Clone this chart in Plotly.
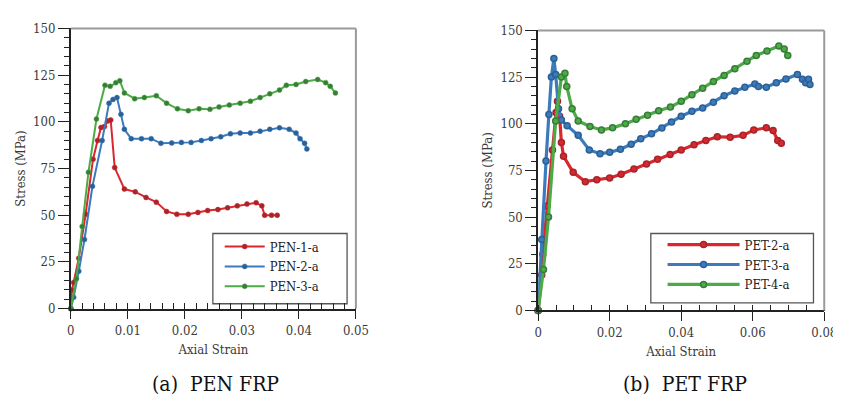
import plotly.graph_objects as go

# ---------------- data: (a) PEN FRP ----------------
pen1_strain = [0, 0.0002, 0.0005, 0.0014, 0.0026, 0.0039, 0.0047, 0.0053, 0.0059, 0.0065, 0.007, 0.0077,
               0.0094, 0.0113, 0.0132, 0.015, 0.0168, 0.0186, 0.0206, 0.0223, 0.024, 0.0258, 0.0275, 0.0292,
               0.0309, 0.0325, 0.0335, 0.034, 0.0352, 0.0362]
pen1_stress = [0, 10, 14, 27, 50.5, 80, 90, 97, 97.5, 100.5, 101, 75.5,
               64, 62.5, 59.5, 57, 52, 50.5, 50.5, 51.5, 52.5, 53, 54, 55,
               56, 56.7, 55, 50, 50, 50]

pen2_strain = [0, 0.0005, 0.0014, 0.0024, 0.0038, 0.0055, 0.0067, 0.0074, 0.0081, 0.0088, 0.0094, 0.0106,
               0.0124, 0.0141, 0.0158, 0.0177, 0.0194, 0.0211, 0.0229, 0.0246, 0.0263, 0.028, 0.0297, 0.0315,
               0.0332, 0.0349, 0.0366, 0.0383, 0.0395, 0.0402, 0.041, 0.0414]
pen2_stress = [0, 6, 20, 37, 65.5, 90, 110, 112, 113, 104, 96, 91,
               91, 91, 88.5, 88.7, 89, 89, 90, 91, 92, 93.6, 94, 94,
               95, 96, 96.8, 96, 94, 91, 88.5, 85.5]

pen3_strain = [0, 0.001, 0.002, 0.0031, 0.0045, 0.006, 0.0069, 0.0079, 0.0086, 0.0094, 0.0112, 0.0129,
               0.015, 0.0168, 0.0187, 0.0206, 0.0225, 0.0244, 0.026, 0.0278, 0.0297, 0.0315, 0.0332, 0.0349,
               0.0366, 0.0378, 0.0395, 0.0412, 0.0433, 0.0447, 0.0455, 0.0464]
pen3_stress = [0, 16, 44, 73, 101.5, 119.6, 119, 121, 122, 115.5, 112.4, 113,
               114, 110, 107, 106, 107, 106.7, 108, 109, 110, 111, 113, 115,
               117, 119.6, 120, 121.6, 122.7, 121, 119, 115.5]

# ---------------- data: (b) PET FRP ----------------
pet2_strain = [0, 0.001, 0.0013, 0.0025, 0.004, 0.005, 0.0054, 0.006, 0.0065, 0.0071, 0.0098, 0.0132,
               0.0164, 0.02, 0.0232, 0.0268, 0.0303, 0.0334, 0.0369, 0.04, 0.0436, 0.0469, 0.0501, 0.0537,
               0.0573, 0.0603, 0.0638, 0.0657, 0.067, 0.068]
pet2_stress = [0, 19, 30, 56, 86, 106, 112, 104, 90, 82.6, 74, 69,
               70, 71, 73, 75.8, 78.4, 81, 83.5, 86, 88.7, 91, 93, 92.8,
               93.8, 96.7, 97.8, 96.4, 91, 89.6]

pet3_strain = [0, 0.001, 0.0022, 0.003, 0.0037, 0.0044, 0.0049, 0.0057, 0.0065, 0.0081, 0.0112, 0.0143,
               0.0173, 0.02, 0.023, 0.026, 0.0287, 0.0317, 0.0346, 0.0373, 0.04, 0.043, 0.046, 0.049,
               0.052, 0.055, 0.0578, 0.0606, 0.0616, 0.0638, 0.0666, 0.0693, 0.0725, 0.0739, 0.0748, 0.0756, 0.076]
pet3_stress = [0, 38, 80, 105, 125, 135, 126.4, 108, 102, 99, 93.8, 86,
               84, 84.7, 86.4, 89, 92, 94.6, 97.7, 101, 104, 106.7, 108.4, 111.5,
               115, 117.5, 119.6, 121.3, 120, 119.6, 122, 124, 126.4, 123.9, 122, 123.9, 121]

pet4_strain = [0, 0.0015, 0.0029, 0.0049, 0.0065, 0.0075, 0.008, 0.0095, 0.0112, 0.0145, 0.0177, 0.0208,
               0.0244, 0.0274, 0.0306, 0.0337, 0.037, 0.04, 0.043, 0.046, 0.049, 0.052, 0.055, 0.0584,
               0.061, 0.064, 0.0673, 0.0688, 0.0698]
pet4_stress = [0, 22, 50, 101.5, 125, 127, 120, 108, 101.5, 98.5, 96.7, 97.8,
               100, 102.4, 104.6, 107, 109, 112, 115.6, 119, 122.6, 125.8, 129.4, 133.5,
               136.6, 139, 141.6, 140, 136.6]

pen_names = ["PEN-1-a", "PEN-2-a", "PEN-3-a"]
pet_names = ["PET-2-a", "PET-3-a", "PET-4-a"]
captions = ["(a)\u00a0 PEN FRP", "(b)\u00a0 PET FRP"]

line_colors = ["#d9272d", "#3b7bbd", "#4caa47"]
mark_colors = ["#a3262b", "#2c5f93", "#387c37"]

SERIF = "DejaVu Serif Condensed, DejaVu Serif, serif"

fig = go.Figure()

pen_data = [(pen1_strain, pen1_stress), (pen2_strain, pen2_stress), (pen3_strain, pen3_stress)]
pet_data = [(pet2_strain, pet2_stress), (pet3_strain, pet3_stress), (pet4_strain, pet4_stress)]

for i, (sx, sy) in enumerate(pen_data):
    fig.add_trace(go.Scatter(
        x=sx, y=sy, name=pen_names[i], mode="lines+markers",
        line=dict(color=line_colors[i], width=2),
        marker=dict(symbol="circle", size=5, color=mark_colors[i],
                    line=dict(color=line_colors[i], width=0.5)),
        xaxis="x", yaxis="y", legend="legend", cliponaxis=False))

for i, (sx, sy) in enumerate(pet_data):
    fig.add_trace(go.Scatter(
        x=sx, y=sy, name=pet_names[i], mode="lines+markers",
        line=dict(color=line_colors[i], width=3.2),
        marker=dict(symbol="circle", size=6, color=line_colors[i],
                    line=dict(color=mark_colors[i], width=1.5)),
        xaxis="x2", yaxis="y2", legend="legend2", cliponaxis=False))

W, H = 841, 400
# pixel geometry of the two frames
L1, R1, T1, B1 = 60, 351, 14, 305
L2, R2, T2, B2 = 537, 829, 16, 307

tickfont = dict(family=SERIF, size=13, color="#3a3a3a")
titlefont = dict(family=SERIF, size=13, color="#3a3a3a")

def xax(dom, rng, dt, mdt):
    return dict(domain=dom, range=rng, dtick=dt, tick0=0, showgrid=False, zeroline=False,
                showline=True, linecolor="#222", linewidth=1.5,
                ticks="outside", ticklen=9, tickwidth=1.3, tickcolor="#222",
                minor=dict(dtick=mdt, tick0=0, ticks="inside", ticklen=6, tickwidth=1.1, tickcolor="#222"),
                tickfont=tickfont, title=dict(text="Axial Strain", font=titlefont, standoff=8),
                fixedrange=True)

def yax(dom, anchor):
    return dict(domain=dom, range=[0, 150], dtick=25, tick0=0, showgrid=False, zeroline=False,
                showline=True, linecolor="#222", linewidth=1.5,
                ticks="outside", ticklen=11, tickwidth=1.3, tickcolor="#222",
                minor=dict(dtick=5, tick0=0, ticks="outside", ticklen=5, tickwidth=1.1, tickcolor="#222"),
                tickfont=tickfont, title=dict(text="Stress (MPa)", font=titlefont, standoff=5),
                anchor=anchor, fixedrange=True)

leg_font = dict(family=SERIF, size=13, color="#222")
fig.update_layout(
    width=W, height=H, margin=dict(l=0, r=0, t=0, b=0),
    paper_bgcolor="white", plot_bgcolor="white",
    font=dict(family=SERIF),
    xaxis=dict(**xax([L1 / W, R1 / W], [0, 0.05], 0.01, 0.002), anchor="y"),
    yaxis=yax([1 - B1 / H, 1 - T1 / H], "x"),
    xaxis2=dict(**xax([L2 / W, R2 / W], [0, 0.08], 0.02, 0.005), anchor="y2"),
    yaxis2=yax([1 - B2 / H, 1 - T2 / H], "x2"),
    legend=dict(x=212 / W, y=1 - 225 / H, xanchor="left", yanchor="top",
                bgcolor="rgba(0,0,0,0)", borderwidth=0, font=leg_font,
                itemwidth=40, tracegroupgap=0, itemclick=False),
    legend2=dict(x=664 / W, y=1 - 223 / H, xanchor="left", yanchor="top",
                 bgcolor="rgba(0,0,0,0)", borderwidth=0, font=leg_font,
                 itemwidth=72, tracegroupgap=0, itemclick=False),
    showlegend=True,
)

# legend frames
for x0, x1, y0, y1 in [(205, 342, 227, 300), (652, 818, 227, 299)]:
    fig.add_shape(type="rect", xref="paper", yref="paper", layer="below",
                  x0=x0 / W, x1=x1 / W, y0=1 - y1 / H, y1=1 - y0 / H,
                  line=dict(color="#555", width=1.3), fillcolor="white")

# grey top and right frame edges
for xr, yr in [("x domain", "y domain"), ("x2 domain", "y2 domain")]:
    fig.add_shape(type="line", xref=xr, yref=yr, x0=0, x1=1, y0=1, y1=1,
                  line=dict(color="#9a9a9a", width=2))
    fig.add_shape(type="line", xref=xr, yref=yr, x0=1, x1=1, y0=0, y1=1,
                  line=dict(color="#9a9a9a", width=2))

# captions
for cx, txt in [(208, captions[0]), (687, captions[1])]:
    fig.add_annotation(x=cx / W, y=1 - 383 / H, xref="paper", yref="paper", text=txt,
                       showarrow=False, xanchor="center", yanchor="middle",
                       font=dict(family=SERIF, size=21, color="#111"))

fig.write_html("out.html")
